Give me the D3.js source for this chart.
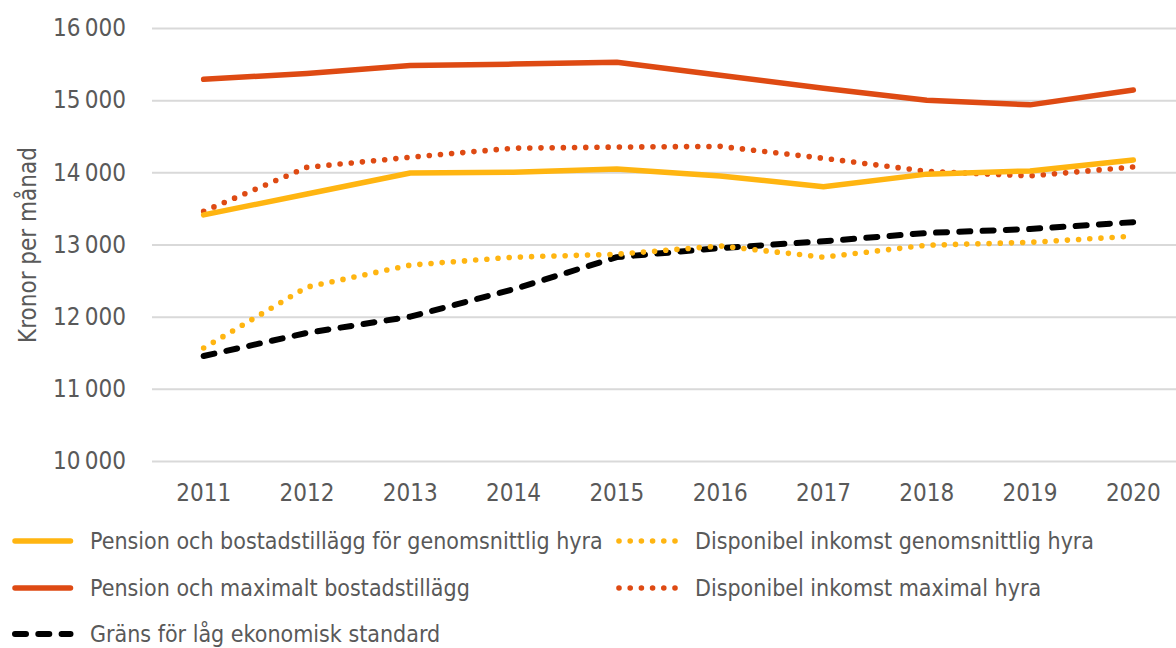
<!DOCTYPE html>
<html lang="sv"><head>
<meta charset="utf-8">
<title>Kronor per månad</title>
<script src="https://cdn.jsdelivr.net/npm/d3@7"></script>
<style>
  body { margin: 0; background: #fff; }
  text { font-family: "DejaVu Sans Condensed", "Liberation Sans Narrow", sans-serif; fill: #595959; }
</style>
</head>
<body>
<script>
var years = [2011, 2012, 2013, 2014, 2015, 2016, 2017, 2018, 2019, 2020];
var pensionGenomsnitt = [13410, 13700, 13990, 14000, 14045, 13950, 13800, 13975, 14020, 14170];
var dispGenomsnitt    = [11565, 12410, 12715, 12825, 12865, 12980, 12825, 12990, 13030, 13115];
var pensionMax        = [15290, 15370, 15480, 15500, 15525, 15345, 15165, 15000, 14935, 15140];
var dispMax           = [13460, 14070, 14210, 14335, 14350, 14360, 14195, 14015, 13950, 14075];
var lagStandard       = [11455, 11775, 12000, 12380, 12825, 12950, 13045, 13160, 13215, 13310];
var yTicks = [10000, 11000, 12000, 13000, 14000, 15000, 16000];

var series = [
  {name: "Pension och bostadstillägg för genomsnittlig hyra", values: pensionGenomsnitt, color: "#FFB511", style: "solid"},
  {name: "Disponibel inkomst genomsnittlig hyra", values: dispGenomsnitt, color: "#FFB511", style: "dot"},
  {name: "Pension och maximalt bostadstillägg", values: pensionMax, color: "#DE4A13", style: "solid"},
  {name: "Disponibel inkomst maximal hyra", values: dispMax, color: "#DE4A13", style: "dot"},
  {name: "Gräns för låg ekonomisk standard", values: lagStandard, color: "#000000", style: "dash"}
];

var W = 1176, H = 648;
var plotLeft = 152, plotRight = 1185, plotTop = 28, plotBottom = 461;

var x = d3.scaleBand().domain(years).range([plotLeft, plotRight]);
var y = d3.scaleLinear().domain([10000, 16000]).range([plotBottom, plotTop]);
var fmt = function(d) { return d3.format(",")(d).replace(",", "\u2009"); };

var svg = d3.select("body").append("svg").attr("width", W).attr("height", H);

// gridlines + y labels
var yAxis = d3.axisLeft(y).tickValues(yTicks).tickSize(-(plotRight - plotLeft)).tickFormat(fmt).tickPadding(26);
var gy = svg.append("g").attr("transform", "translate(" + plotLeft + ",0)").call(yAxis);
gy.select(".domain").remove();
gy.selectAll("line").attr("stroke", "#d9d9d9").attr("stroke-width", 2);
gy.selectAll("text").attr("font-size", 24).style("fill", "#595959");

// x labels
var gx = svg.append("g").attr("transform", "translate(0," + plotBottom + ")")
  .call(d3.axisBottom(x).tickSize(0).tickPadding(23));
gx.select(".domain").remove();
gx.selectAll("text").attr("font-size", 24).style("fill", "#595959");

svg.append("text")
  .attr("transform", "translate(36,245) rotate(-90)")
  .attr("text-anchor", "middle")
  .attr("font-size", 24)
  .text("Kronor per månad");

function dash(s) {
  if (s === "dot") return "0 11.2";
  if (s === "dash") return "11 12.3";
  return null;
}
function width(s) { return s === "dot" ? 5.6 : (s === "dash" ? 6 : 5.5); }

var line = d3.line()
  .x(function(d, i) { return x(years[i]) + x.bandwidth() / 2; })
  .y(function(d) { return y(d); });

var order = [4, 1, 3, 0, 2];
order.forEach(function(k) {
  var s = series[k];
  svg.append("path")
    .attr("d", line(s.values))
    .attr("fill", "none")
    .attr("stroke", s.color)
    .attr("stroke-width", width(s.style))
    .attr("stroke-linecap", "round")
    .attr("stroke-linejoin", "round")
    .attr("stroke-dasharray", dash(s.style));
});

// legend
var legendPos = [[12, 541], [617, 541], [12, 588], [617, 588], [12, 634]];
series.forEach(function(s, i) {
  var p = legendPos[i];
  var g = svg.append("g").attr("transform", "translate(" + p[0] + "," + p[1] + ")");
  g.append("line")
    .attr("x1", s.style === "dot" ? 2 : 3).attr("x2", 58.5)
    .attr("stroke", s.color)
    .attr("stroke-width", width(s.style))
    .attr("stroke-linecap", "round")
    .attr("stroke-dasharray", dash(s.style));
  g.append("text")
    .attr("x", 78).attr("dy", "0.35em")
    .attr("font-size", 23)
    .text(s.name);
});
</script>
</body></html>
